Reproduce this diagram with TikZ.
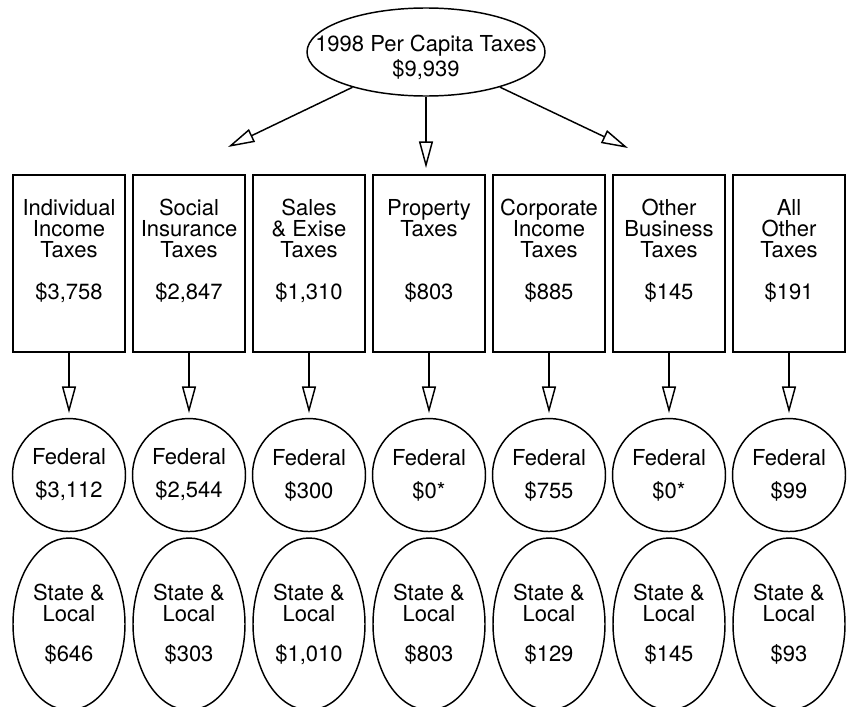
\documentclass[tikz,border=0pt]{standalone}
\usepackage{fontspec}
\setmainfont{TeX Gyre Heros}
\usetikzlibrary{arrows.meta, positioning, shapes.geometric}

\begin{document}
\begin{tikzpicture}[
	x=0.75pt, y=-0.75pt,
	node distance=4.8pt and 4.8pt,
	every node/.style={font=\fontsize{16.5}{15.75}\selectfont},
	taxbox/.style={
		rectangle, draw, line width=1.2pt,
		minimum width=84pt, minimum height=132.75pt,
		inner sep=0pt, align=center
	},
	fedcirc/.style={
		circle, draw, line width=1.1pt,
		minimum size=84.75pt, inner sep=0pt, align=center
	},
	localell/.style={
		ellipse, draw, line width=1.1pt,
		minimum width=84pt, minimum height=129pt,
		inner sep=0pt, align=center
	},
	arrow/.style={
		-{Triangle[open, length=20pt, width=10.5pt]},
		line width=1.1pt, shorten >=3.5pt
	}
	]
	\useasboundingbox (0,0) rectangle (850,707);

	% Total
	\node[ellipse, draw, line width=1.1pt, minimum width=178.5pt, minimum height=66pt,
		inner sep=0pt, align=center, text height=37pt, text depth=-8pt] (total) at (426,52)
		{\makebox[100pt]{1998 Per Capita Taxes}\\[1.5pt]\$9,939};
	\coordinate (lefttip)  at (228,147);
	\coordinate (midtip)   at (426,168);
	\coordinate (righttip) at (628,148);

	% Row 1
	\node[taxbox] (indiv) at (69,263.5) {Individual\\Income\\Taxes\\[15.75pt]\$3,758\\[6pt]\mbox{}};
	\node[taxbox, right=of indiv]  (social) {Social\\Insurance\\Taxes\\[15.75pt]\$2,847\\[6pt]\mbox{}};
	\node[taxbox, right=of social] (sales)  {Sales\\\& Exise\\Taxes\\[15.75pt]\$1,310\\[6pt]\mbox{}};
	\node[taxbox, right=of sales]  (prop)   {Property\\Taxes\\\mbox{}\\[15.75pt]\$803\\[6pt]\mbox{}};
	\node[taxbox, right=of prop]   (corp)   {Corporate\\Income\\Taxes\\[15.75pt]\$885\\[6pt]\mbox{}};
	\node[taxbox, right=of corp]   (busi)   {Other\\Business\\Taxes\\[15.75pt]\$145\\[6pt]\mbox{}};
	\node[taxbox, right=of busi]   (other)  {All\\Other\\Taxes\\[15.75pt]\$191\\[6pt]\mbox{}};

	% Row 2
	\node[fedcirc, below=48.75pt of indiv]  (indivF)  {Federal\\[9pt]\$3,112};
	\node[fedcirc, below=48.75pt of social] (socialF) {Federal\\[9pt]\$2,544};
	\node[fedcirc, below=48.75pt of sales]  (salesF)  {Federal\\[9pt]\$300};
	\node[fedcirc, below=48.75pt of prop]   (propF)   {Federal\\[9pt]\$0*};
	\node[fedcirc, below=48.75pt of corp]   (corpF)   {Federal\\[9pt]\$755};
	\node[fedcirc, below=48.75pt of busi]   (busiF)   {Federal\\[9pt]\$0*};
	\node[fedcirc, below=48.75pt of other]  (otherF)  {Federal\\[9pt]\$99};

	% Row 3
	\node[localell, below=3.75pt of indivF]  (indivS)  {State \&\\Local\\[14.25pt]\$646};
	\node[localell, below=3.75pt of socialF] (socialS) {State \&\\Local\\[14.25pt]\$303};
	\node[localell, below=3.75pt of salesF]  (salesS)  {State \&\\Local\\[14.25pt]\$1,010};
	\node[localell, below=3.75pt of propF]   (propS)   {State \&\\Local\\[14.25pt]\$803};
	\node[localell, below=3.75pt of corpF]   (corpS)   {State \&\\Local\\[14.25pt]\$129};
	\node[localell, below=3.75pt of busiF]   (busiS)   {State \&\\Local\\[14.25pt]\$145};
	\node[localell, below=3.75pt of otherF]  (otherS)  {State \&\\Local\\[14.25pt]\$93};

	% Arrows
	\draw[arrow, shorten >=0pt] (total) -- (lefttip);
	\draw[arrow, shorten >=0pt] (total) -- (midtip);
	\draw[arrow, shorten >=0pt] (total) -- (righttip);
	\draw[arrow] (indiv)  -- (indivF);
	\draw[arrow] (social) -- (socialF);
	\draw[arrow] (sales)  -- (salesF);
	\draw[arrow] (prop)   -- (propF);
	\draw[arrow] (corp)   -- (corpF);
	\draw[arrow] (busi)   -- (busiF);
	\draw[arrow] (other)  -- (otherF);

\end{tikzpicture}
\end{document}
